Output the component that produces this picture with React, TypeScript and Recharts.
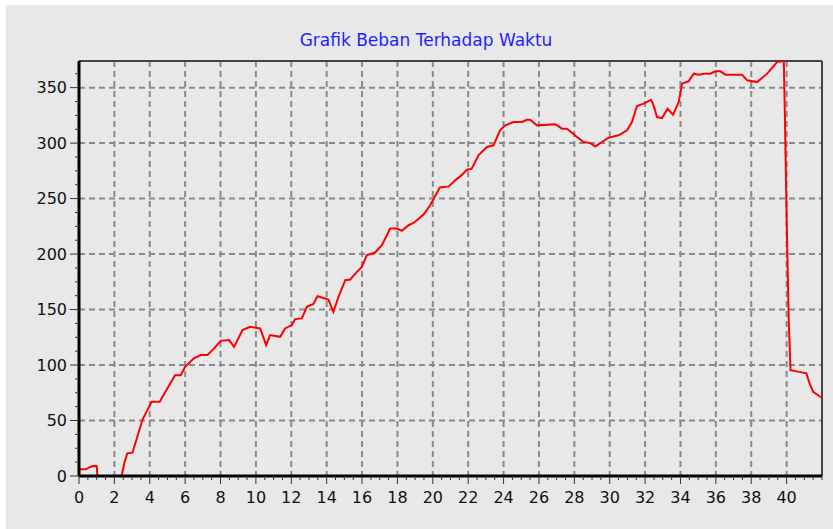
import React from "react";
import { LineChart, Line, XAxis, YAxis, CartesianGrid, ReferenceLine } from "recharts";

// Time (x) in the sampled order
const TIME = [
  0, 0.38, 0.66, 0.9, 1.0, 1.04, 2.41, 2.55, 2.73, 3.02, 3.3, 3.58, 3.86, 4.11, 4.56, 5.0,
  5.43, 5.75, 6.0, 6.5, 6.88, 7.26, 7.64, 8.01, 8.48, 8.77, 9.24, 9.67, 10.24, 10.58, 10.8,
  11.37, 11.65, 12.03, 12.22, 12.6, 12.88, 13.25, 13.48, 14.1, 14.38, 14.67, 15.05, 15.33,
  15.71, 15.99, 16.27, 16.74, 17.12, 17.59, 17.97, 18.25, 18.63, 18.9, 19.1, 19.5, 19.85,
  20.4, 20.9, 21.27, 21.55, 21.93, 22.2, 22.58, 23.06, 23.43, 23.8, 24.1, 24.56, 25.04,
  25.32, 25.5, 25.89, 26.92, 27.3, 27.58, 28.15, 28.52, 28.9, 29.19, 29.56, 29.94, 30.5,
  30.98, 31.26, 31.54, 31.92, 32.34, 32.48, 32.67, 32.96, 33.27, 33.58, 33.9, 34.09, 34.46,
  34.75, 35.03, 35.31, 35.69, 35.97, 36.26, 36.54, 37.48, 37.77, 38.33, 38.9, 39.46, 39.84,
  39.9, 40.0, 40.12, 40.22, 40.5, 41.12, 41.3, 41.5, 41.9, 42,
];

// Load (y) values
const LOAD = [
  6, 6, 8.4, 9.3, 9, 0, 0, 11, 20.4, 21, 35.4, 50.4, 59.4, 66.9, 66.9, 79,
  90.9, 90.9, 98.4, 106, 109, 109, 115, 121.8, 122.5, 116.4, 131.5, 134.4, 133, 118, 127,
  125.4, 133, 136, 141.4, 142, 152.5, 155, 162, 159, 148, 161.5, 176.5, 177,
  184, 188.5, 199, 201.4, 208, 223, 223, 221, 226, 228, 230.5, 236, 244,
  260, 261, 266.5, 270, 276, 277, 289, 296.5, 298, 311.5, 316, 319, 319,
  321, 321, 316, 317, 313, 313, 305.5, 301, 300, 297, 301, 305, 307,
  311.5, 319, 333.4, 335.6, 339, 334, 323.5, 322.6, 331, 325.7, 337, 353.6, 355.7,
  362.6, 361.7, 362.6, 362.6, 364.7, 364.7, 361.7, 361.7, 356.6, 355, 362.6, 373, 374,
  327, 233, 140, 95.4, 94.5, 92.5, 83.4, 75.9, 71.4, 70.5,
];

const X_LABELS = [0, 2, 4, 6, 8, 10, 12, 14, 16, 18, 20, 22, 24, 26, 28, 30, 32, 34, 36, 38, 40];
const Y_LABELS = [0, 50, 100, 150, 200, 250, 300, 350];
const X_DOMAIN = [0, 42];
const Y_DOMAIN = [0, 374];
const X_MINOR_STEP = 0.5;
const Y_MINOR_STEP = 12.5;

const TITLE = "Grafik Beban Terhadap Waktu";

const rows = TIME.map((t, i) => ({ t, load: LOAD[i] }));

const X_ALL_TICKS: number[] = [];
for (let v = X_DOMAIN[0]; v <= X_DOMAIN[1] + 1e-9; v += X_MINOR_STEP) X_ALL_TICKS.push(Math.round(v * 100) / 100);
const Y_ALL_TICKS: number[] = [];
for (let v = Y_DOMAIN[0]; v <= 362.5 + 1e-9; v += Y_MINOR_STEP) Y_ALL_TICKS.push(Math.round(v * 100) / 100);

const FONT = "'DejaVu Sans', Verdana, sans-serif";

const XTick = (props: any) => {
  const { x, y, payload } = props;
  const v = payload.value;
  const major = X_LABELS.includes(v);
  return (
    <g>
      <line x1={x} x2={x} y1={y} y2={y + (major ? 8 : 4)} stroke="#333" strokeWidth={1} />
      {major && (
        <text x={x} y={y + 16} dy="0.71em" textAnchor="middle" fontFamily={FONT} fontSize={16} fill="#111">
          {v}
        </text>
      )}
    </g>
  );
};

const YTick = (props: any) => {
  const { x, y, payload } = props;
  const v = payload.value;
  const major = Y_LABELS.includes(v);
  return (
    <g>
      <line x1={x - (major ? 9 : 4)} x2={x} y1={y} y2={y} stroke="#333" strokeWidth={1} />
      {major && (
        <text x={x - 12} y={y} dy="0.355em" textAnchor="end" fontFamily={FONT} fontSize={16} fill="#111">
          {v}
        </text>
      )}
    </g>
  );
};

export default function App() {
  return (
    <div style={{ position: "absolute", left: 0, top: 0, width: 833, height: 529, background: "#ffffff", overflow: "hidden" }}>
      <div style={{ position: "absolute", left: 6, top: 5, width: 827, height: 524, background: "#e8e8e8" }} />
      <div
        style={{
          position: "absolute",
          left: 0,
          top: 30,
          width: 852,
          textAlign: "center",
          fontFamily: FONT,
          fontSize: 17,
          lineHeight: "20px",
          color: "#1f1fff",
        }}
      >
        {TITLE}
      </div>
      <div style={{ position: "absolute", left: 0, top: 0 }}>
        <LineChart width={833} height={529} data={rows} margin={{ top: 61, right: 11, left: 0, bottom: 13 }}>
          <CartesianGrid
            stroke="#8a8a8a"
            strokeWidth={2}
            strokeDasharray="6 4"
            verticalCoordinatesGenerator={({ offset }: any) =>
              X_LABELS.filter((v) => v > 0).map((v) => offset.left + (v / (X_DOMAIN[1] - X_DOMAIN[0])) * offset.width)
            }
            horizontalCoordinatesGenerator={({ offset }: any) =>
              Y_LABELS.filter((v) => v > 0).map((v) => offset.top + offset.height * (1 - v / (Y_DOMAIN[1] - Y_DOMAIN[0])))
            }
          />
          <XAxis
            dataKey="t"
            type="number"
            domain={X_DOMAIN}
            allowDataOverflow
            ticks={X_ALL_TICKS}
            interval={0}
            height={40}
            tickSize={0}
            tickMargin={0}
            tickLine={false}
            axisLine={{ stroke: "#000", strokeWidth: 3 }}
            tick={<XTick />}
          />
          <YAxis
            type="number"
            domain={Y_DOMAIN}
            allowDataOverflow
            ticks={Y_ALL_TICKS}
            interval={0}
            width={79}
            tickSize={0}
            tickMargin={0}
            tickLine={false}
            axisLine={{ stroke: "#000", strokeWidth: 3 }}
            tick={<YTick />}
          />
          <ReferenceLine y={Y_DOMAIN[1]} stroke="#444" strokeWidth={2} />
          <ReferenceLine x={X_DOMAIN[1]} stroke="#444" strokeWidth={2} />
          <Line
            dataKey="load"
            type="linear"
            stroke="#ff0000"
            strokeWidth={2}
            dot={false}
            activeDot={false}
            isAnimationActive={false}
          />
        </LineChart>
      </div>
    </div>
  );
}
